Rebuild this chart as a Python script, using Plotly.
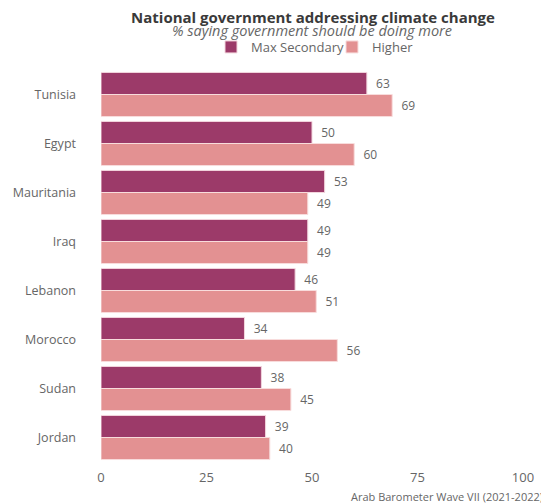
import plotly.graph_objects as go

countries = ["Tunisia", "Egypt", "Mauritania", "Iraq", "Lebanon", "Morocco", "Sudan", "Jordan"]
max_secondary = [63, 50, 53, 49, 46, 34, 38, 39]
higher = [69, 60, 49, 49, 51, 56, 45, 40]
x_ticks = [0, 25, 50, 75, 100]

FONT = "Open Sans"
GREY = "#666666"
PLOT_H = 392
PLOT_W = 422

fig = go.Figure()
fig.add_trace(go.Bar(
    y=countries, x=max_secondary, orientation="h", name="Max Secondary",
    marker=dict(color="#9C3A69", line=dict(color="#F3D6DE", width=1)),
    text=max_secondary, texttemplate="  %{x}", textposition="outside",
    textfont=dict(color=GREY, size=12, family=FONT), cliponaxis=False,
))
fig.add_trace(go.Bar(
    y=countries, x=higher, orientation="h", name="Higher",
    marker=dict(color="#E39192", line=dict(color="#F8DCDC", width=1)),
    text=higher, texttemplate="  %{x}", textposition="outside",
    textfont=dict(color=GREY, size=12, family=FONT), cliponaxis=False,
))

fig.update_layout(
    template="none",
    width=541, height=496,
    margin=dict(l=93, r=26, t=62, b=42, autoexpand=False),
    paper_bgcolor="white", plot_bgcolor="white",
    font=dict(family=FONT, color=GREY, size=12),
    barmode="group", bargap=0.1, bargroupgap=0,
    showlegend=True,
    legend=dict(orientation="h", x=0.5 + 20 / PLOT_W, xanchor="center", y=1.0 + 23 / PLOT_H, yanchor="middle",
                font=dict(size=13, color=GREY), itemwidth=30, entrywidth=76, traceorder="normal",
                bgcolor="rgba(0,0,0,0)"),
    xaxis=dict(range=[0, 100], tickvals=x_ticks, showgrid=False, zeroline=False, automargin=False,
               showline=False, ticks="", ticklabelstandoff=6, tickfont=dict(size=13, color=GREY)),
    yaxis=dict(categoryorder="array", categoryarray=countries, autorange="reversed", automargin=False,
               showgrid=False, showline=False, ticks="", ticklabelstandoff=24, zeroline=False,
               tickfont=dict(size=12.5, color=GREY)),
    title=dict(text="<b>National government addressing climate change</b>",
               x=305 / 541, xanchor="center", y=1 - 9.5 / 496, yanchor="middle",
               font=dict(size=15, color="#3A3A3A", family=FONT)),
    annotations=[
        dict(text="<i>% saying government should be doing more</i>", xref="paper", yref="paper",
             x=0.5, xanchor="center", y=1.0 + 39 / PLOT_H, yanchor="middle",
             showarrow=False, font=dict(size=14.5, color=GREY, family=FONT)),
        dict(text="Arab Barometer Wave VII (2021-2022)", xref="paper", yref="paper",
             x=1.0 + 22 / PLOT_W, xanchor="right", y=-35 / PLOT_H, yanchor="middle",
             showarrow=False, font=dict(size=11, color=GREY, family=FONT)),
    ],
)

fig.write_html("out.html")
